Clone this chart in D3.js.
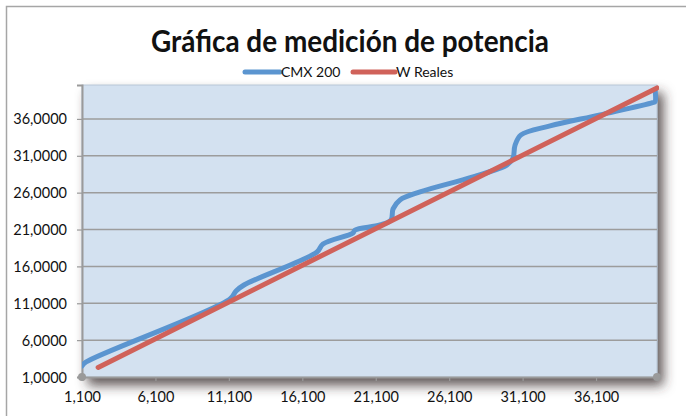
<!DOCTYPE html>
<html>
<head>
<meta charset="utf-8">
<script src="https://cdn.jsdelivr.net/npm/d3@7/dist/d3.min.js"></script>
<style>
  html, body { margin: 0; padding: 0; background: #fff; }
  svg { display: block; }
  text { font-family: Lato, "Open Sans", sans-serif; fill: #111; }
</style>
</head>
<body>
<svg id="chart" width="686" height="416"></svg>
<script>
// ---- data ----
const titleText = "Gráfica de medición de potencia";
const seriesNames = ["CMX 200", "W Reales"];
const xTickValues = [1.1, 6.1, 11.1, 16.1, 21.1, 26.1, 31.1, 36.1];
const xTickLabels = ["1,100", "6,100", "11,100", "16,100", "21,100", "26,100", "31,100", "36,100"];
const yTickValues = [1, 6, 11, 16, 21, 26, 31, 36];
const yTickLabels = ["1,0000", "6,0000", "11,0000", "16,0000", "21,0000", "26,0000", "31,0000", "36,0000"];
const cmxX = [1.1, 1.37, 11.18, 11.59, 12.13, 17.10, 17.51, 19.55, 19.69, 21.39, 22.14, 22.28, 22.75, 24.12, 27.72, 30.04, 30.45, 30.58, 30.99, 32.97, 36.37, 39.95, 40.12, 40.12];
const cmxY = [2.49, 3.03, 11.58, 12.67, 13.48, 17.96, 19.04, 20.54, 20.94, 21.62, 22.30, 23.80, 25.01, 26.10, 28.13, 29.76, 30.71, 32.40, 33.83, 35.05, 36.55, 38.2, 38.35, 39.94];
const realX = [2.2, 40.25];
const realY = [2.3, 40.2];

// ---- layout ----
const svg = d3.select("#chart");
const plot = { left: 82, right: 657, top: 85, bottom: 377 };
const x = d3.scaleLinear().domain([1.1, 40.25]).range([plot.left, plot.right]);
const y = d3.scaleLinear().domain([1, 40.6]).range([plot.bottom, plot.top]);
const blue = "#5b95d0", red = "#d0625a";

// outer border
svg.append("rect").attr("x", 6.5).attr("y", 6.5).attr("width", 700).attr("height", 430)
  .attr("fill", "#fff").attr("stroke", "#a6a6a6").attr("stroke-width", 1.5);

// shadow filter
const defs = svg.append("defs");
const f = defs.append("filter").attr("id", "sh").attr("x", "-10%").attr("y", "-10%").attr("width", "130%").attr("height", "140%");
f.append("feDropShadow").attr("dx", 6).attr("dy", 8).attr("stdDeviation", 6)
  .attr("flood-color", "#3a2e2e").attr("flood-opacity", 0.8);
defs.append("clipPath").attr("id", "clip").append("rect")
  .attr("x", plot.left).attr("y", plot.top - 3).attr("width", plot.right - plot.left + 2).attr("height", plot.bottom - plot.top + 3);

// plot area
svg.append("rect").attr("x", plot.left).attr("y", plot.top)
  .attr("width", plot.right - plot.left).attr("height", plot.bottom - plot.top)
  .attr("fill", "#d3e1f0").attr("stroke", "#b8c6d6").attr("stroke-width", 1)
  .attr("filter", "url(#sh)");

// gridlines
svg.append("g").selectAll("line").data(yTickValues.slice(1)).join("line")
  .attr("x1", plot.left).attr("x2", plot.right)
  .attr("y1", d => y(d)).attr("y2", d => y(d))
  .attr("stroke", "#9c9c9c").attr("stroke-width", 1.5);

// axes
const yAxis = d3.axisLeft(y).tickValues(yTickValues).tickFormat((d, i) => yTickLabels[i]).tickSizeOuter(0).tickSize(5).tickPadding(10);
const gy = svg.append("g").attr("transform", `translate(${plot.left},0)`).call(yAxis);
const xAxis = d3.axisBottom(x).tickValues(xTickValues).tickFormat((d, i) => xTickLabels[i]).tickSizeOuter(0).tickSize(4).tickPadding(8);
const gx = svg.append("g").attr("transform", `translate(0,${plot.bottom})`).call(xAxis);
[gx, gy].forEach(g => {
  g.select(".domain").attr("stroke", "#9a9a9a").attr("stroke-width", 2);
  g.selectAll(".tick line").attr("stroke", "#9a9a9a").attr("stroke-width", 1.2);
  g.selectAll(".tick text").attr("font-family", "Lato, sans-serif").attr("font-size", 14.5).attr("fill", "#1a1a1a");
});
gx.selectAll(".tick text").attr("dy", "0.9em");
gy.selectAll(".tick text").attr("dy", "0.35em");
svg.selectAll(".endDot").data([x.domain()[0], x.domain()[1]]).join("circle")
  .attr("cx", d => x(d)).attr("cy", plot.bottom).attr("r", 4).attr("fill", "#9a9a9a");

// series
const line = d3.line().x(d => x(d[0])).y(d => y(d[1])).curve(d3.curveCatmullRom.alpha(0.5));
const lines = svg.append("g").attr("clip-path", "url(#clip)");
lines.append("path").datum(cmxX.map((v, i) => [v, cmxY[i]]))
  .attr("d", line).attr("fill", "none").attr("stroke", blue).attr("stroke-width", 5)
  .attr("stroke-linecap", "round").attr("stroke-linejoin", "round");
lines.append("path").datum(realX.map((v, i) => [v, realY[i]]))
  .attr("d", line).attr("fill", "none").attr("stroke", red).attr("stroke-width", 5)
  .attr("stroke-linecap", "round").attr("stroke-linejoin", "round");

// title
svg.append("text").attr("x", 350).attr("y", 52).attr("text-anchor", "middle")
  .attr("font-size", 30).attr("font-weight", "bold").attr("textLength", 398)
  .attr("lengthAdjust", "spacingAndGlyphs").text(titleText);

// legend
const leg = svg.append("g");
const legItems = [
  { name: seriesNames[0], color: blue, x0: 245, x1: 280, tx: 281 },
  { name: seriesNames[1], color: red, x0: 353, x1: 395, tx: 396 }
];
legItems.forEach(it => {
  leg.append("line").attr("x1", it.x0).attr("x2", it.x1).attr("y1", 72).attr("y2", 72)
    .attr("stroke", it.color).attr("stroke-width", 5).attr("stroke-linecap", "round");
  leg.append("text").attr("x", it.tx).attr("y", 77).attr("font-size", 14).attr("fill", "#1a1a1a").text(it.name);
});
</script>
</body>
</html>
